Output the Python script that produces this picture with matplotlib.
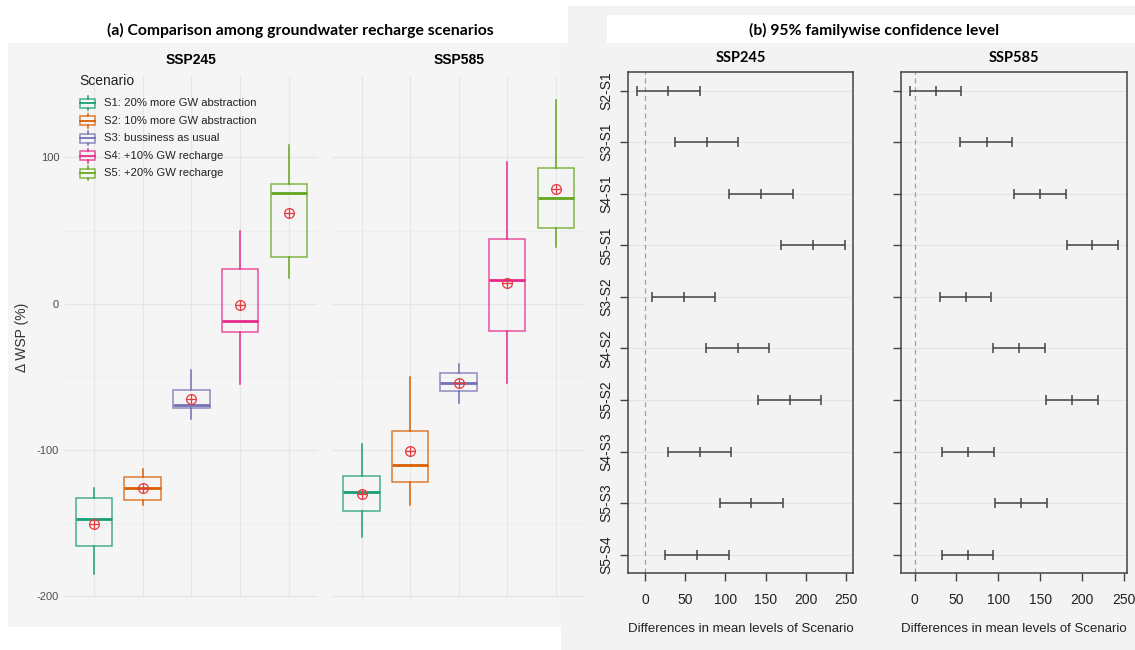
import matplotlib
matplotlib.use("Agg")
import matplotlib.pyplot as plt
from matplotlib.patches import Rectangle
from matplotlib.lines import Line2D
import numpy as np

W, H = 1135, 650

scenarios = ["S1: 20% more GW abstraction", "S2: 10% more GW abstraction",
             "S3: bussiness as usual", "S4: +10% GW recharge", "S5: +20% GW recharge"]
colors = ["#1b9e77", "#d95f02", "#7570b3", "#e7298a", "#66a61e"]
ssps = ["SSP245", "SSP585"]

# panel (a): box statistics of delta WSP (%)
whislo = {"SSP245": [-185, -137.5, -79, -55, 17.5], "SSP585": [-159.5, -137.5, -68, -54, 38.5]}
q1 = {"SSP245": [-166, -134, -71.5, -19.5, 32], "SSP585": [-142, -122, -59.5, -18.5, 52]}
med = {"SSP245": [-147, -126, -69, -11.5, 75.5], "SSP585": [-129, -110, -54, 16, 72]}
q3 = {"SSP245": [-133, -118.5, -59, 23.5, 82], "SSP585": [-118, -87, -47.5, 44, 93]}
whishi = {"SSP245": [-126, -113, -45, 50, 108.5], "SSP585": [-96, -50, -41, 97, 139.5]}
means = {"SSP245": [-150.5, -126, -65, -1, 62], "SSP585": [-130, -101, -54, 14, 78.5]}

# panel (b): Tukey HSD differences
pairs = ["S2-S1", "S3-S1", "S4-S1", "S5-S1", "S3-S2", "S4-S2", "S5-S2", "S4-S3", "S5-S3", "S5-S4"]
diff = {"SSP245": [29, 77, 144.5, 209.5, 48.5, 115.5, 180, 68, 132.5, 65],
        "SSP585": [25, 86, 149.5, 212.5, 61, 125, 188, 64, 127, 63.5]}
lwr = {"SSP245": [-10.3, 37, 104.7, 169.5, 8.5, 75.6, 140.4, 28.6, 93, 25],
       "SSP585": [-6, 54.7, 118.5, 182.3, 30.6, 94, 157.3, 33.2, 96.6, 32.3]}
upr = {"SSP245": [69, 116.3, 184.3, 248.7, 87.7, 154.7, 219.6, 107.3, 172.2, 104.2],
       "SSP585": [55.6, 116.4, 180.6, 243.5, 91.8, 156, 219, 94.8, 157.8, 94]}

plt.rcParams["font.family"] = ["Liberation Sans", "DejaVu Sans"]
plt.rcParams["axes.unicode_minus"] = False
TITLE_FONT = ["Lato", "DejaVu Sans"]

fig = plt.figure(figsize=(W / 100, H / 100), dpi=100)
fig.patch.set_facecolor("white")


def box(x0, y0, x1, y1):
    # pixel box (top-left origin) -> figure rect
    return [x0 / W, 1 - y1 / H, (x1 - x0) / W, (y1 - y0) / H]


def bg(x0, y0, x1, y1, color):
    r = box(x0, y0, x1, y1)
    fig.patches.append(Rectangle((r[0], r[1]), r[2], r[3], transform=fig.transFigure,
                                 facecolor=color, edgecolor="none", zorder=-10))


bg(8, 43, 575, 627, "#f5f5f5")
bg(561, 6, W, H, "#f3f3f3")
bg(0, 0, 568, 43, "white")
bg(607, 15, W, 43, "white")

fig.text(300 / W, 1 - 30 / H, "(a) Comparison among groundwater recharge scenarios",
         ha="center", va="center", fontsize=11.3, fontweight="bold", family=TITLE_FONT)
fig.text(874 / W, 1 - 30 / H, "(b) 95% familywise confidence level",
         ha="center", va="center", fontsize=11.3, fontweight="bold", family=TITLE_FONT)

# ---- panel (a) ----
lo = min(min(whislo[s]) for s in ssps)
hi = max(max(whishi[s]) for s in ssps)
pad = (hi - lo) * 0.05
left_pos = [(64.7, 318), (332.4, 585)]
for k, s in enumerate(ssps):
    ax = fig.add_axes(box(left_pos[k][0], 76, left_pos[k][1], 598))
    ax.set_facecolor("none")
    stats = []
    for i in range(5):
        stats.append(dict(whislo=whislo[s][i], q1=q1[s][i], med=med[s][i],
                          q3=q3[s][i], whishi=whishi[s][i], fliers=[]))
    for i in range(5):
        ax.bxp([stats[i]], positions=[i + 1], widths=0.75, showcaps=False,
               showfliers=False, patch_artist=True,
               boxprops=dict(facecolor="none", edgecolor=colors[i], linewidth=1.1, alpha=0.8),
               whiskerprops=dict(color=colors[i], linewidth=1.1),
               medianprops=dict(color=colors[i], linewidth=2))
    x = np.arange(1, 6)
    ax.plot(x, means[s], "o", ms=7, mfc="none", mec="#e8383d", mew=0.9, zorder=5)
    ax.plot(x, means[s], "+", ms=7, mec="#e8383d", mew=0.9, zorder=5)
    ax.set_xlim(0.4, 5.6)
    ax.set_ylim(lo - pad, hi + pad)
    ax.set_yticks([-200, -100, 0, 100])
    ax.set_yticks([-150, -50, 50], minor=True)
    ax.set_xticks(x)
    ax.set_xticklabels([])
    ax.grid(True, which="major", color="#e6e6e6", linewidth=0.9)
    ax.grid(True, which="minor", axis="y", color="#ededed", linewidth=0.6)
    ax.set_axisbelow(True)
    ax.tick_params(length=0, which="both", labelsize=8, labelcolor="#4d4d4d", pad=4)
    for sp in ax.spines.values():
        sp.set_visible(False)
    if k != 0:
        ax.set_yticklabels([])
    ax.set_title(s, fontsize=10, fontweight="bold", pad=9)

fig.text(22 / W, 1 - 337 / H, "\u0394 WSP (%)", rotation=90, fontsize=10, color="#333333",
         ha="center", va="center")

# legend drawn as boxplot glyphs
fig.text(79 / W, 1 - 81 / H, "Scenario", fontsize=10, va="center", ha="left", color="#222222")
for i in range(5):
    yc = 103.3 + i * 17.5
    r = box(80, yc - 4.5, 95, yc + 4.5)
    fig.patches.append(Rectangle((r[0], r[1]), r[2], r[3], transform=fig.transFigure,
                                 facecolor="none", edgecolor=colors[i], linewidth=1.1, alpha=0.8))
    fig.lines.append(Line2D([80 / W, 95 / W], [1 - yc / H] * 2, transform=fig.transFigure,
                            color=colors[i], linewidth=1.3))
    for a, b in [(yc - 7, yc - 4.5), (yc + 4.5, yc + 7)]:
        fig.lines.append(Line2D([87.5 / W] * 2, [1 - a / H, 1 - b / H], transform=fig.transFigure,
                                color=colors[i], linewidth=1.1))
    fig.text(103.5 / W, 1 - yc / H, scenarios[i], fontsize=8.1, va="center", ha="left",
             color="#222222")

# ---- panel (b) ----
right_pos = [(628.4, 853.2), (901.2, 1126.8)]
n = len(pairs)
yy = np.arange(n)[::-1]
for k, s in enumerate(ssps):
    ax = fig.add_axes(box(right_pos[k][0], 72, right_pos[k][1], 573.3))
    ax.set_facecolor("none")
    d = np.array(diff[s])
    l = np.array(lwr[s])
    u = np.array(upr[s])
    for yv in yy:
        ax.axhline(yv, color="#e4e4e4", linewidth=0.8, zorder=0)
    ax.axvline(0, color="#a0a0a0", linestyle=(0, (4, 3)), linewidth=0.9, zorder=1)
    ax.errorbar(d, yy, xerr=[d - l, u - d], fmt="|", ms=7, mew=1.1, color="#444444",
                ecolor="#444444", elinewidth=1.1, capsize=3.4, capthick=1.1, zorder=3)
    span = u.max() - l.min()
    ax.set_xlim(l.min() - 0.04 * span, u.max() + 0.04 * span)
    ax.set_ylim(-0.04 * (n - 1), (n - 1) * 1.04)
    ax.set_xticks([0, 50, 100, 150, 200, 250])
    ax.set_yticks(yy)
    if k == 0:
        ax.set_yticklabels(pairs, rotation=90, va="center")
    else:
        ax.set_yticklabels([])
    ax.tick_params(axis="both", length=6, width=1, color="#444444", labelsize=10,
                   labelcolor="#222222")
    ax.tick_params(axis="x", pad=8)
    ax.tick_params(axis="y", pad=5)
    for sp in ax.spines.values():
        sp.set_color("#444444")
        sp.set_linewidth(1.1)
    ax.set_xlabel("Differences in mean levels of Scenario", fontsize=9.5, color="#222222",
                  labelpad=12)
    ax.set_title(s, fontsize=10.5, fontweight="bold", family=TITLE_FONT, pad=7)

fig.savefig("out.png", dpi=100, facecolor="white")
